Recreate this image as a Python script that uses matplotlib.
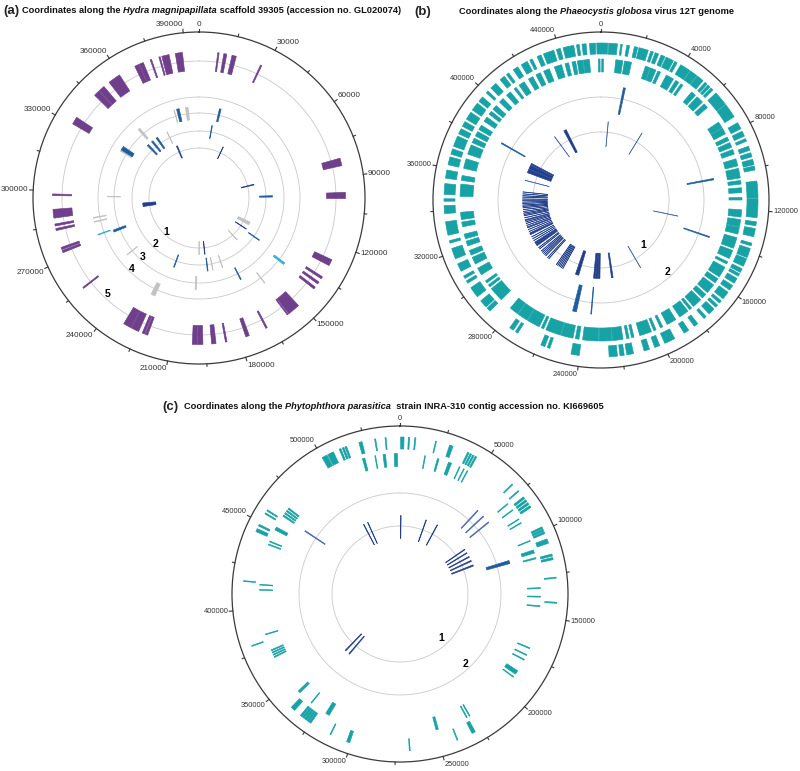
import numpy as np
import matplotlib.pyplot as plt

plt.rcParams['font.family'] = ['Liberation Sans', 'DejaVu Sans']

W, H = 800, 771
fig = plt.figure(figsize=(W / 100, H / 100), dpi=100)

AXIS = "#3a3a3a"
TXT = "#333333"
RING = "#c9c9c9"
COLORS = {
    "p": "#6f3f8c",   # purple
    "b": "#1f5e9e",   # steel blue
    "n": "#223f8c",   # navy
    "l": "#4a68ad",   # light navy
    "g": "#c2c2c2",   # grey
    "c": "#2fb0d6",   # cyan
    "t": "#17a2a5",   # teal
}

# --------------------------------------------------
# (a) Hydra magnipapillata scaffold 39305
# --------------------------------------------------
a_length = 396000
a_major, a_minor = 30000, 15000

a_ring1 = [(370100, 371300, "n"), (27650, 28150, "n"), (83450, 84350, "n"),
           (287400, 291400, "n"), (126700, 130200, "g"), (135350, 135850, "n"),
           (151250, 151750, "g"), (197200, 198200, "g"), (191200, 191800, "n")]
a_ring2 = [(11000, 11600, "b"), (97000, 98200, "b"), (137200, 137800, "b"),
           (177150, 177650, "g"), (185750, 186250, "g"), (190200, 190800, "b"),
           (219550, 220250, "b"), (346900, 348300, "b"), (351800, 353200, "b"),
           (356800, 358200, "b"), (367350, 367850, "g")]
a_ring3 = [(14200, 15400, "b"), (167800, 168400, "b"), (199700, 200700, "g"),
           (254700, 255100, "g"), (272950, 274450, "b"), (297800, 298200, "g"),
           (330800, 333200, "g"), (331900, 334700, "b"), (350150, 351650, "g"),
           (378400, 378800, "g"), (380400, 382200, "b"), (386600, 388400, "g")]
a_ring4 = [(139800, 141000, "c"), (156300, 156700, "g"), (224650, 227150, "g"),
           (274750, 275250, "c"), (282650, 283150, "g"), (285050, 285550, "g")]
a_ring5 = [(8100, 8700), (10750, 12050), (14350, 16250), (27300, 27900),
           (81650, 84950), (96550, 99250), (126400, 129200), (134800, 135800),
           (137500, 138500), (140200, 141200), (150950, 156450), (156750, 157250),
           (167450, 168150), (175900, 177500), (185850, 186550), (190650, 192550),
           (196300, 198500), (198700, 200900), (220600, 221700), (222000, 223100),
           (224800, 228300), (228500, 232000), (255100, 255700), (272900, 273900),
           (274300, 275300), (282850, 283750), (284850, 285750), (288300, 292100),
           (298050, 298750), (330450, 333750), (346000, 348600), (348800, 351500),
           (354350, 359850), (367400, 369300), (369500, 371400), (374600, 375200),
           (378500, 379100), (379800, 383000), (385750, 388850)]

# --------------------------------------------------
# (b) Phaeocystis globosa virus 12T genome
# --------------------------------------------------
b_length = 460000
b_major, b_minor = 40000, 20000

b_ring1_light = [6550, 40050, 129850, 191050, 363350, 413450]
b_ring1_thick = [(423850, 426350), (251100, 254300), (231000, 232700),
                 (233000, 234900), (235200, 237000), (218650, 220150),
                 (299500, 301300), (301700, 303500), (311500, 313300),
                 (318400, 319500), (325400, 326500), (371000, 374500),
                 (374900, 378500), (379000, 380500)]
b_ring1_lines = [267000, 268400, 269800, 271200, 272600, 274000,
                 283000, 284500, 287000, 288500, 290000, 291500, 293000,
                 295500, 297000, 305000, 307000, 309000, 314500, 316500,
                 320700, 322500, 324000, 328000, 330000, 331200, 332500,
                 334000, 335800, 337500, 338800, 340000, 341500, 342800,
                 344500, 345700, 347500, 348800, 350500, 352300]
b_ring2 = [(14450, 15750), (382650, 383350), (101150, 102050), (138750, 139450),
           (245850, 248350), (236050, 236550)]
b_ring3 = [(429300, 432500), (435300, 439200), (441100, 443000), (444800, 446700),
           (447600, 450500), (450800, 454000), (458600, 459500), (400, 1300),
           (7700, 11400), (12300, 16000), (23500, 26000), (26300, 29300),
           (30400, 31900), (35300, 39500), (40900, 42800), (44100, 45400),
           (51100, 53700), (54900, 58800), (60100, 62600), (72200, 75500),
           (75800, 79200), (81100, 83100), (84300, 86900), (88200, 90700),
           (93300, 97100), (98400, 103500), (104800, 106700), (108600, 111200),
           (113700, 115000), (120100, 123900), (125200, 129000), (129300, 132900),
           (134800, 140600), (141800, 146300), (148200, 149500), (151400, 157200),
           (158400, 161000), (162300, 167400), (168700, 171200), (172500, 177600),
           (178900, 180200), (181400, 186600), (189100, 194200), (196800, 198100),
           (200600, 201900), (203200, 209600), (212700, 214000), (215300, 216600),
           (218500, 224000), (224300, 231000), (231300, 239600), (241500, 243400),
           (244700, 251000), (251300, 259400), (260700, 262000), (263200, 270000),
           (270300, 276000), (276300, 281100), (287500, 295200), (296400, 297700),
           (299000, 300300), (304100, 308000), (310500, 314300), (315600, 318200),
           (320700, 323300), (324600, 327100), (331000, 333500), (334800, 338600),
           (346900, 353300), (355200, 357800), (361600, 366700), (369300, 374400),
           (375700, 378200), (379500, 382100), (383300, 385900), (388400, 391000),
           (392900, 394800), (396100, 398700), (401200, 403800), (406300, 408900),
           (411400, 412700), (414600, 417800), (420400, 423000), (424900, 427400)]
b_ring4 = [(454600, 457400), (458000, 460000), (0, 3200), (3600, 7700),
           (9200, 10000), (12100, 13400), (15700, 17300), (17900, 22400),
           (23600, 24900), (25800, 27500), (28800, 30700), (31300, 35100),
           (35800, 37100), (39000, 44000), (44300, 48000), (48300, 51800),
           (53000, 54300), (54900, 56200), (56900, 58100), (60100, 67000),
           (67300, 74100), (77300, 80500), (81800, 84300), (85600, 86900),
           (89400, 91400), (92600, 94600), (95800, 98400), (99000, 100900),
           (106100, 114000), (114300, 123300), (125200, 127100), (128400, 132300),
           (135400, 136700), (138000, 142500), (143100, 146900), (148200, 150100),
           (150800, 152100), (153300, 155900), (157200, 159700), (161000, 164800),
           (166100, 167400), (168700, 170000), (171200, 174400), (176300, 177600),
           (181400, 183400), (186600, 189100), (194200, 199300), (201900, 204400),
           (207000, 209600), (214700, 217900), (219100, 221100), (222300, 226200),
           (240200, 244100), (254300, 255600), (256800, 258800), (270900, 272200),
           (273400, 275400), (287500, 289400), (290100, 293900), (296400, 301600),
           (304100, 305400), (306700, 308000), (310500, 314300), (316900, 322000),
           (324600, 325800), (328400, 334800), (338600, 342400), (344400, 345600),
           (347600, 352700), (355200, 359100), (361600, 365400), (366700, 369300),
           (370600, 375700), (376900, 379500), (380800, 383300), (384600, 388400),
           (389700, 393600), (394800, 397400), (400000, 401200), (403100, 406300),
           (408900, 411400), (412700, 414000), (416600, 419100), (421000, 424200),
           (425500, 426800), (429300, 431300), (432500, 437600), (438900, 440800),
           (442100, 447200), (448500, 449800), (451100, 453000)]

# --------------------------------------------------
# (c) Phytophthora parasitica INRA-310 contig KI669605
# --------------------------------------------------
c_length = 545000
c_major, c_minor = 50000, 25000

c_ring1 = [(550, 1250), (29150, 29850), (42650, 43350), (503000, 503600),
           (508000, 508600), (83600, 84400), (88100, 88900), (93000, 94000),
           (97900, 99100), (103300, 104700), (333000, 334000), (338500, 339500)]
c_ring2 = [(64750, 65450, "l"), (70850, 71550, "l"), (76850, 77550, "l"),
           (110400, 112800, "b"), (459250, 459950, "l")]
c_ring3 = [(521500, 523000), (529350, 529850), (534500, 536000), (541400, 543400),
           (15350, 15850), (23400, 24400), (30600, 32600), (37850, 38350),
           (40750, 41250), (43250, 43750), (75550, 76050), (80450, 80950),
           (87250, 87750), (89950, 90450), (102350, 102850), (108600, 110600),
           (113500, 114300), (132300, 132900), (137600, 138200), (143500, 144100),
           (170300, 170900), (174900, 175500), (178200, 178800), (186400, 188900),
           (190750, 191250), (227200, 227800), (229200, 229800), (248500, 250000),
           (318300, 320800), (331550, 332050), (341200, 342700), (368100, 368800),
           (369600, 370300), (371100, 371800), (372600, 373300), (383150, 383650),
           (411050, 411550), (414250, 414750), (439700, 440300), (441700, 442300),
           (449800, 451800), (459600, 460500), (461400, 462300), (463200, 464100),
           (465000, 465900)]
c_ring4 = [(350, 2250), (4650, 5350), (8200, 8800), (19850, 20350), (27900, 29900),
           (38600, 39500), (40200, 41100), (41800, 42700), (43400, 44300),
           (536700, 537300), (530900, 531500), (522000, 523800), (510500, 511500),
           (512300, 513300), (513900, 514900), (500000, 503000), (503500, 507000),
           (68900, 69500), (73900, 74500), (78400, 79600), (80400, 81600),
           (82400, 83600), (84400, 85600), (97900, 99000), (99400, 100500),
           (100900, 102000), (105150, 107650), (113900, 115100), (115900, 117100),
           (126900, 127500), (140800, 141400), (229100, 231100), (239750, 240250),
           (266850, 267350), (300800, 302600), (312150, 312650), (324900, 326100),
           (326400, 327600), (327900, 329100), (329400, 330600), (330900, 332100),
           (336350, 338850), (379250, 379750), (415650, 416150), (444200, 446000),
           (447600, 448600), (455150, 455850), (457150, 457850)]


def ring_axes(cx, cy, R):
    ax = fig.add_axes([(cx - R) / W, (H - cy - R) / H, 2 * R / W, 2 * R / H],
                      projection="polar")
    ax.set_theta_zero_location("N")
    ax.set_theta_direction(-1)
    ax.set_ylim(0, R)
    ax.set_xticks([])
    ax.set_yticks([])
    ax.grid(False)
    ax.patch.set_alpha(0)
    ax.spines["polar"].set_linewidth(0.9)
    ax.spines["polar"].set_color(AXIS)
    return ax


def circle(ax, r):
    th = np.linspace(0, 2 * np.pi, 500)
    ax.plot(th, np.full_like(th, r), color=RING, lw=0.6, zorder=1)


def features(ax, L, starts, ends, colors, r, h, lw=0.45):
    s = np.asarray(starts, float)
    e = np.asarray(ends, float)
    t0 = 2 * np.pi * s / L
    t1 = 2 * np.pi * e / L
    ax.bar((t0 + t1) / 2, h, width=t1 - t0, bottom=r - h / 2, color=colors,
           edgecolor=colors, linewidth=lw, zorder=3)


def coord_ticks(ax, L, R, major, minor, fs):
    for p in range(0, L, minor):
        th = 2 * np.pi * p / L
        big = p % major == 0
        ax.plot([th, th], [R, R + (3.5 if big else 2.5)], color=AXIS, lw=0.8,
                clip_on=False)
        if big:
            s, c = np.sin(th), np.cos(th)
            ha = "left" if s > 0.05 else ("right" if s < -0.05 else "center")
            va = "bottom" if c > 0.35 else ("top" if c < -0.35 else "center")
            ax.text(th, R + 4.5, str(p), ha=ha, va=va, fontsize=fs, color=TXT,
                    clip_on=False)


def ring_label(ax, L, pos, r, text):
    ax.text(2 * np.pi * pos / L, r, text, ha="center", va="center",
            fontsize=7.5, fontweight="bold", color="black")


# ---- panel (a)
ax = ring_axes(199, 198, 166)
for r in [50, 67, 85, 101, 137]:
    circle(ax, r)
for ring, r in [(a_ring1, 50), (a_ring2, 67), (a_ring3, 85), (a_ring4, 101)]:
    features(ax, a_length, [f[0] for f in ring], [f[1] for f in ring],
             [COLORS[f[2]] for f in ring], r, 13)
features(ax, a_length, [f[0] for f in a_ring5], [f[1] for f in a_ring5],
         COLORS["p"], 137, 19)
coord_ticks(ax, a_length, 166, a_major, a_minor, 5.9)
for k, r in enumerate([47, 63, 81, 98, 132]):
    ring_label(ax, a_length, 246000, r, str(k + 1))

# ---- panel (b)
ax = ring_axes(601, 200, 168)
for r in [68, 103]:
    circle(ax, r)
features(ax, b_length, b_ring1_light, [p + 450 for p in b_ring1_light],
         COLORS["l"], 66, 25, lw=0.35)
features(ax, b_length, [f[0] for f in b_ring1_thick], [f[1] for f in b_ring1_thick],
         COLORS["n"], 66, 25)
features(ax, b_length, b_ring1_lines, [p + 450 for p in b_ring1_lines],
         COLORS["n"], 66, 25, lw=0.35)
features(ax, b_length, [f[0] for f in b_ring2], [f[1] for f in b_ring2],
         COLORS["b"], 101, 27)
features(ax, b_length, [f[0] for f in b_ring3], [f[1] for f in b_ring3],
         COLORS["t"], 134.5, 13)
features(ax, b_length, [f[0] for f in b_ring4], [f[1] for f in b_ring4],
         COLORS["t"], 151.5, 11)
coord_ticks(ax, b_length, 168, b_major, b_minor, 5.4)
ring_label(ax, b_length, 175000, 62, "1")
ring_label(ax, b_length, 175000, 98, "2")

# ---- panel (c)
ax = ring_axes(400, 594, 168)
for r in [68, 101]:
    circle(ax, r)
features(ax, c_length, [f[0] for f in c_ring1], [f[1] for f in c_ring1],
         COLORS["n"], 67, 23)
features(ax, c_length, [f[0] for f in c_ring2], [f[1] for f in c_ring2],
         [COLORS[f[2]] for f in c_ring2], 102, 24)
features(ax, c_length, [f[0] for f in c_ring3], [f[1] for f in c_ring3],
         COLORS["t"], 134, 13)
features(ax, c_length, [f[0] for f in c_ring4], [f[1] for f in c_ring4],
         COLORS["t"], 151, 12)
coord_ticks(ax, c_length, 168, c_major, c_minor, 5.4)
ring_label(ax, c_length, 207000, 60, "1")
ring_label(ax, c_length, 207000, 96, "2")

# --------------------------------------------------
# panel titles
# --------------------------------------------------
tax = fig.add_axes([0, 0, 1, 1])
tax.set_xlim(0, W)
tax.set_ylim(H, 0)
tax.axis("off")

titles = [
    ("(a)", 3, 22, 13, [("Coordinates along the ", "normal"),
                        ("Hydra magnipapillata", "italic"),
                        (" scaffold 39305 (accession no. GL020074)", "normal")]),
    ("(b)", 414, 459, 14, [("Coordinates along the ", "normal"),
                           ("Phaeocystis globosa", "italic"),
                           (" virus 12T genome", "normal")]),
    ("(c)", 162, 184, 409, [("Coordinates along the ", "normal"),
                            ("Phytophthora parasitica", "italic"),
                            ("  strain INRA-310 contig accession no. KI669605", "normal")]),
]
renderer = fig.canvas.get_renderer()
for tag, xt, x0, y0, parts in titles:
    tax.text(xt, y0 + 1, tag, fontsize=9.5, fontweight="bold", color="#222222",
             va="baseline")
    x = x0
    for s, style in parts:
        t = tax.text(x, y0, s, fontsize=6.7, fontweight="bold", fontstyle=style,
                     color="#111111", va="baseline")
        x += t.get_window_extent(renderer).width

fig.savefig("out.png", dpi=100)
